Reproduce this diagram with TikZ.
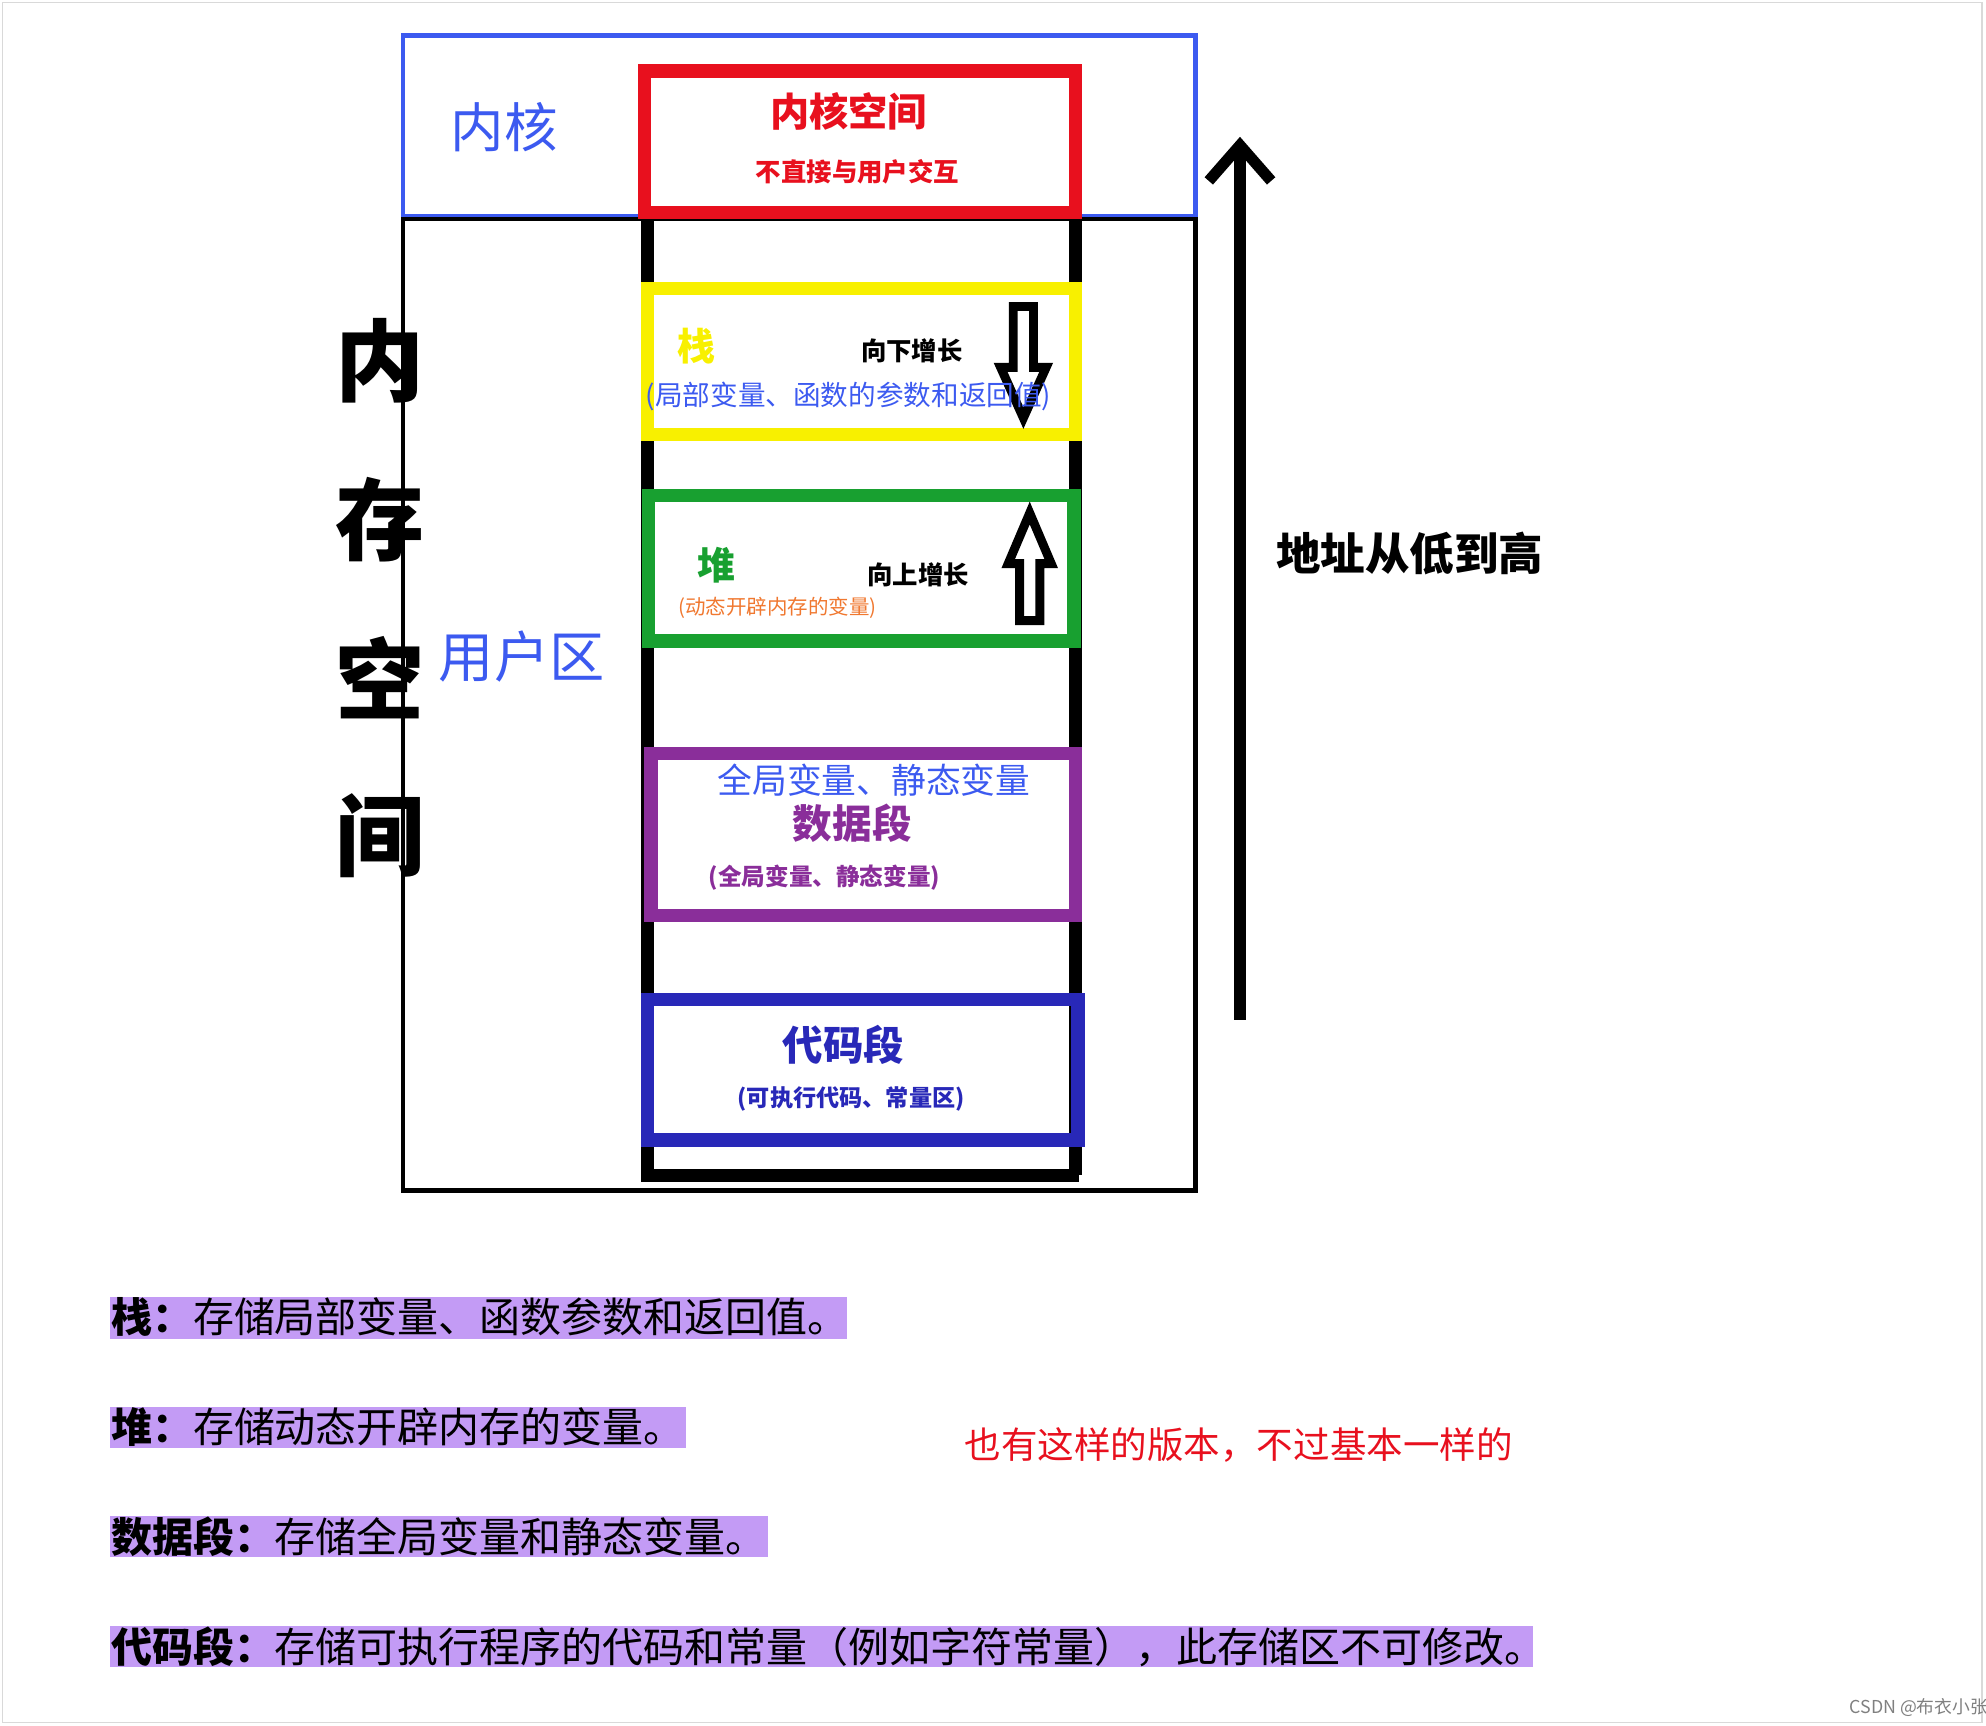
\documentclass[tikz,border=0pt]{standalone}
\usepackage{fontspec}
\setmainfont{Noto Sans CJK SC}
\usetikzlibrary{arrows.meta}
\definecolor{kblue}{HTML}{3C5AF0}
\definecolor{kred}{HTML}{E8101E}
\definecolor{kyellow}{HTML}{F8F000}
\definecolor{kgreen}{HTML}{18A030}
\definecolor{kpurple}{HTML}{8A2E9A}
\definecolor{kcode}{HTML}{2828B8}
\definecolor{korange}{HTML}{F07830}
\definecolor{hlight}{HTML}{C39BF5}
\newcommand{\fsz}[1]{\fontsize{#1pt}{#1pt}\selectfont}
\tikzset{
    seg/.style={line width=3pt},
    lbl/.style={inner sep=0pt},
    hl/.style={fill=hlight, draw=none},
    hollow/.style={draw=black, line width=2pt, fill=white},
}
\begin{document}
\begin{tikzpicture}[x=0.01cm, y=-0.01cm]
    \useasboundingbox (0,0) rectangle (1568,1362);
    \draw[gray!30] (2,2) rectangle (1565,1360);

    % frames
    \draw[kblue, line width=1pt] (318,28) rectangle (944,171);
    \draw[black, line width=1pt] (318,173) rectangle (944,940);
    \node[lbl, kblue] (kern) at (398,100) {\fsz{12}内核};
    \node[lbl, kblue] (user) at (412,518) {\fsz{12.4}用户区};
    \foreach \c [count=\i] in {内,存,空,间}
        \node[lbl] (mem\i) at (300,160+125*\i) {\fsz{20}\bfseries \c};

    % memory column
    \draw[seg] (511,170) -- (511,928) -- (852,928);
    \draw[seg] (849,170) -- (849,928);

    % segments
    \draw[seg, kred, fill=white] (509,56) rectangle (849,168);
    \node[lbl, kred] (kspace) at (670,88) {\fsz{8.8}\bfseries 内核空间};
    \node[lbl, kred] (knote) at (677,136) {\fsz{5.7}\bfseries 不直接与用户交互};

    \draw[seg, kyellow] (511,228) rectangle (849,343);
    \node[lbl, kyellow] (stack) at (550,273) {\fsz{8.5}\bfseries 栈};
    \node[lbl] (down) at (720,277) {\fsz{5.7}\bfseries 向下增长};
    \draw[hollow] (800,242) -- (816,242) -- (816,290) -- (826,290) -- (808,330)
        -- (790,290) -- (800,290) -- cycle;
    \node[lbl, kblue] (stacknote) at (670,313) {\fsz{6.2}(局部变量、函数的参数和返回值)};

    \draw[seg, kgreen] (512,391) rectangle (848,506);
    \node[lbl, kgreen] (heap) at (566,446) {\fsz{8.5}\bfseries 堆};
    \node[lbl] (up) at (725,454) {\fsz{5.7}\bfseries 向上增长};
    \draw[hollow] (805,490) -- (821,490) -- (821,445) -- (830,445) -- (813,405)
        -- (796,445) -- (805,445) -- cycle;
    \node[lbl, korange] (heapnote) at (614,480) {\fsz{4.6}(动态开辟内存的变量)};

    \draw[seg, kpurple] (514,595) rectangle (849,723);
    \node[lbl, kblue] (datatop) at (690,616) {\fsz{7.8}全局变量、静态变量};
    \node[lbl, kpurple] (data) at (673,650) {\fsz{8.9}\bfseries 数据段};
    \node[lbl, kpurple] (datanote) at (651,693) {\fsz{5.3}\bfseries (全局变量、静态变量)};

    \draw[seg, kcode] (511,789) rectangle (851,900);
    \node[lbl, kcode] (code) at (666,825) {\fsz{9.1}\bfseries 代码段};
    \node[lbl, kcode] (codenote) at (672,868) {\fsz{5.2}\bfseries (可执行代码、常量区)};

    % address arrow
    \coordinate (low) at (979,805);
    \coordinate (high) at (979,108);
    \draw[line width=2.5pt, -{Straight Barb[length=8pt, width=14pt]}] (low) -- (high);
    \node[lbl] (addr) at (1113,437) {\fsz{10}\bfseries 地址从低到高};

    % notes
    \fill[hl] (87,1024) rectangle (669,1057);
    \fill[hl] (87,1111) rectangle (542,1143);
    \fill[hl] (87,1197) rectangle (606,1229);
    \fill[hl] (87,1284) rectangle (1210,1316);
    \node[lbl, anchor=west] (n1) at (87,1040) {\fsz{9.2}\textbf{栈：}存储局部变量、函数参数和返回值。};
    \node[lbl, anchor=west] (n2) at (87,1127) {\fsz{9.2}\textbf{堆：}存储动态开辟内存的变量。};
    \node[lbl, anchor=west] (n3) at (87,1213) {\fsz{9.2}\textbf{数据段：}存储全局变量和静态变量。};
    \node[lbl, anchor=west] (n4) at (87,1300) {\fsz{9.2}\textbf{代码段：}存储可执行程序的代码和常量（例如字符常量），此存储区不可修改。};
    \node[lbl, kred] (remark) at (978,1141) {\fsz{8.2}也有这样的版本，不过基本一样的};
    \node[lbl, gray] (mark) at (1515,1348) {\fsz{4}CSDN @布衣小张};
\end{tikzpicture}
\end{document}
